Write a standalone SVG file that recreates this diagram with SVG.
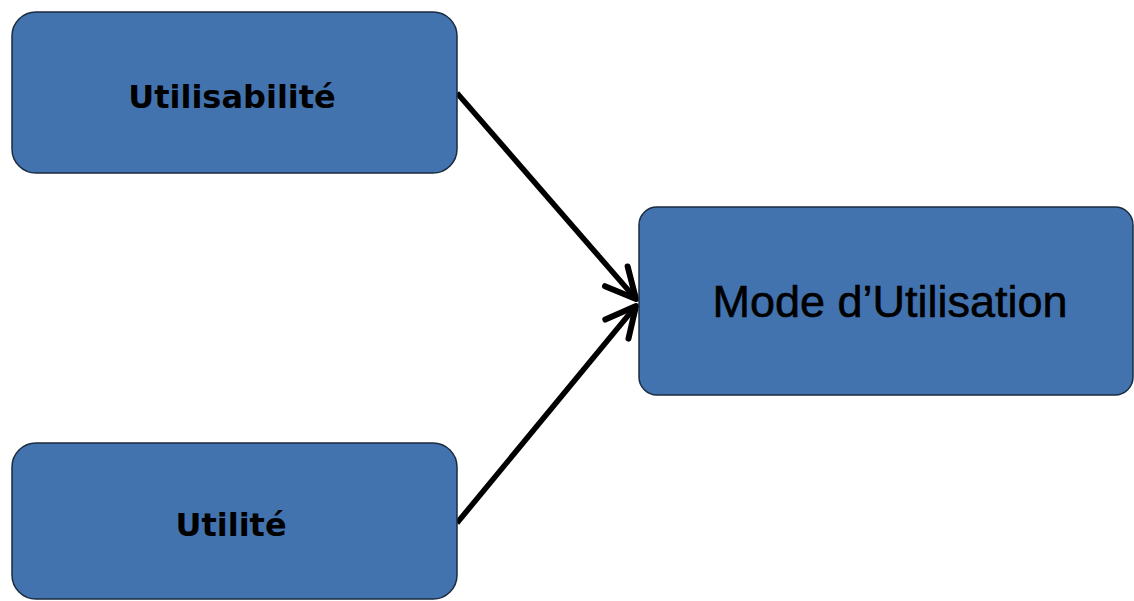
<svg xmlns="http://www.w3.org/2000/svg" width="1134" height="601" viewBox="0 0 1134 601">
<style>
.box{fill:#4373AF;stroke:#1B2B40;stroke-width:1.5}
.lbl{font-family:"DejaVu Sans","Liberation Sans",sans-serif;font-weight:bold;font-size:32px;fill:#000;text-anchor:middle}
.lbl2{font-family:"Liberation Sans",Arial,sans-serif;font-size:45px;fill:#000;stroke:#000;stroke-width:0.6;text-anchor:middle}
.conn{stroke:#000;stroke-width:5.5;fill:none}
</style>
<defs>
<marker id="arr" markerUnits="userSpaceOnUse" viewBox="-40 -20 45 40" refX="0" refY="0" markerWidth="45" markerHeight="40" orient="auto">
<path d="M-30,-15 L0,0 L-30,15" fill="none" stroke="#000" stroke-width="6" stroke-linecap="round" stroke-linejoin="round"/>
</marker>
</defs>
<rect width="1134" height="601" fill="#fff"/>
<g id="connectors">
<line class="conn" x1="457" y1="93" x2="636" y2="299" marker-end="url(#arr)"/>
<line class="conn" x1="457" y1="523" x2="636" y2="306" marker-end="url(#arr)"/>
</g>
<g id="node-utilisabilite">
<rect class="box" x="12" y="12" width="445" height="161" rx="24"/>
<text class="lbl" x="232" y="108">Utilisabilité</text>
</g>
<g id="node-utilite">
<rect class="box" x="12" y="443" width="445" height="156" rx="24"/>
<text class="lbl" x="231" y="536">Utilité</text>
</g>
<g id="node-mode">
<rect class="box" x="639" y="207" width="494" height="188" rx="18"/>
<text class="lbl2" x="890" y="317">Mode d’Utilisation</text>
</g>
</svg>
